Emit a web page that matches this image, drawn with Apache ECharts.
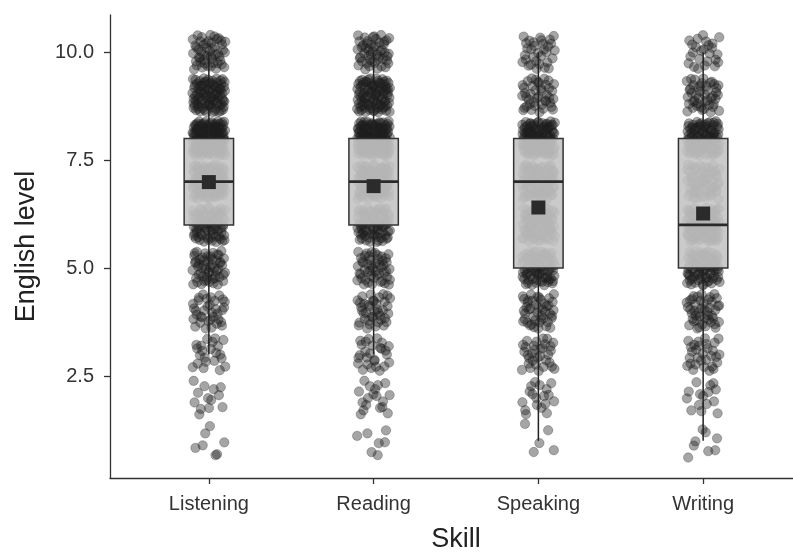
<!DOCTYPE html>
<html>
<head>
<meta charset="utf-8">
<title>English level by skill</title>
<script src="https://cdn.jsdelivr.net/npm/echarts@6/dist/echarts.min.js"></script>
<style>
  html, body { margin: 0; padding: 0; background: #ffffff; }
  #chart { width: 793px; height: 554px; }
</style>
</head>
<body>
<div id="chart"></div>
<script>
// Self-rated English level (1-10), number of respondents at each level per skill
const skills = ['Listening', 'Reading', 'Speaking', 'Writing'];
const levels = [1, 2, 3, 4, 5, 6, 7, 8, 9, 10];
const listeningCounts = [7, 13, 22, 35, 55, 75, 95, 140, 95, 50];
const readingCounts   = [7, 18, 27, 40, 50, 75, 90, 135, 95, 50];
const speakingCounts  = [5, 18, 32, 45, 75, 75, 85, 115, 42, 32];
const writingCounts   = [8, 15, 30, 45, 75, 95, 60, 95, 45, 25];
const yTickValues = [2.5, 5, 7.5, 10];

const countsBySkill = [listeningCounts, readingCounts, speakingCounts, writingCounts];

// Expand the counts into individual responses
function responses(counts) {
  const out = [];
  counts.forEach((n, i) => { for (let k = 0; k < n; k++) out.push(levels[i]); });
  return out;
}

// Quantile (linear interpolation between order statistics)
function quantile(sorted, p) {
  const h = (sorted.length - 1) * p;
  const lo = Math.floor(h);
  const hi = Math.min(lo + 1, sorted.length - 1);
  return sorted[lo] + (h - lo) * (sorted[hi] - sorted[lo]);
}

function boxStats(values) {
  const s = values.slice().sort((a, b) => a - b);
  const q1 = quantile(s, 0.25), med = quantile(s, 0.5), q3 = quantile(s, 0.75);
  const iqr = q3 - q1;
  const lowFence = q1 - 1.5 * iqr, highFence = q3 + 1.5 * iqr;
  const lo = s.find(v => v >= lowFence);
  const hi = s.slice().reverse().find(v => v <= highFence);
  const mean = s.reduce((a, b) => a + b, 0) / s.length;
  return [lo, q1, med, q3, hi, mean];
}

// Halton sequence, used to spread overlapping responses (jitter)
function halton(i, base) {
  let f = 1, r = 0;
  while (i > 0) { f /= base; r += f * (i % base); i = Math.floor(i / base); }
  return r;
}

const JITTER_W = 0.1;   // horizontal jitter, in category units
const JITTER_H = 0.4;   // vertical jitter, in level units

const pointData = [];
const boxData = [];
countsBySkill.forEach((counts, si) => {
  const vals = responses(counts);
  vals.forEach((v, k) => {
    const idx = si * 1000 + k * 7 + 3;
    const jx = (halton(idx, 2) * 2 - 1) * JITTER_W;
    const jy = (halton(idx, 3) * 2 - 1) * JITTER_H;
    pointData.push([si, v, jx, jy]);
  });
  boxData.push([si].concat(boxStats(vals)));
});

const FONT = 'Liberation Sans, Arial, Helvetica, sans-serif';
const INK = '#333333';

const chart = echarts.init(document.getElementById('chart'), null, { renderer: 'canvas' });

chart.setOption({
  backgroundColor: '#ffffff',
  animation: false,
  grid: { left: 110, right: -9, top: 15, bottom: 76, containLabel: false, outerBoundsMode: 'none' },
  xAxis: {
    type: 'value',
    min: -0.6,
    max: 3.6,
    name: 'Skill',
    nameLocation: 'middle',
    nameGap: 48,
    nameTextStyle: { fontFamily: FONT, fontSize: 27, color: '#222' },
    axisLine: { onZero: false, lineStyle: { color: INK, width: 1.3 } },
    axisTick: { show: true, length: 6, customValues: [0, 1, 2, 3], lineStyle: { color: INK, width: 1.3 } },
    axisLabel: {
      customValues: [0, 1, 2, 3],
      formatter: v => skills[Math.round(v)],
      margin: 16,
      fontFamily: FONT, fontSize: 20, color: '#333'
    },
    splitLine: { show: false }
  },
  yAxis: {
    type: 'value',
    min: 0.14,
    max: 10.86,
    name: 'English level',
    nameLocation: 'middle',
    nameGap: 70,
    nameRotate: 90,
    nameTextStyle: { fontFamily: FONT, fontSize: 27, color: '#222' },
    axisLine: { show: true, onZero: false, lineStyle: { color: INK, width: 1.3 } },
    axisTick: { show: true, length: 6, customValues: yTickValues, lineStyle: { color: INK, width: 1.3 } },
    axisLabel: {
      customValues: yTickValues,
      formatter: v => v.toFixed(1),
      margin: 16,
      fontFamily: FONT, fontSize: 20, color: '#333'
    },
    splitLine: { show: false }
  },
  series: [
    {
      name: 'responses',
      type: 'custom',
      z: 2,
      data: pointData,
      encode: { x: 0, y: 1 },
      renderItem: function (params, api) {
        const c = api.coord([api.value(0) + api.value(2), api.value(1) + api.value(3)]);
        return {
          type: 'circle',
          shape: { cx: c[0], cy: c[1], r: 4.7 },
          style: { fill: 'rgba(30,30,30,0.4)', stroke: 'rgba(30,30,30,0.35)', lineWidth: 0.8 }
        };
      }
    },
    {
      name: 'summary',
      type: 'custom',
      z: 3,
      data: boxData,
      encode: { x: 0, y: [1, 5] },
      renderItem: function (params, api) {
        const x = api.value(0);
        const lo = api.value(1), q1 = api.value(2), med = api.value(3);
        const q3 = api.value(4), hi = api.value(5), mean = api.value(6);
        const half = 0.15;
        const pTop = api.coord([x, q3]), pHi = api.coord([x, hi]);
        const pBot = api.coord([x, q1]), pLo = api.coord([x, lo]);
        const tl = api.coord([x - half, q3]), br = api.coord([x + half, q1]);
        const ml = api.coord([x - half, med]), mr = api.coord([x + half, med]);
        const pm = api.coord([x, mean]);
        const sq = 14;
        return {
          type: 'group',
          children: [
            { type: 'line', shape: { x1: pTop[0], y1: pTop[1], x2: pHi[0], y2: pHi[1] },
              style: { stroke: '#222', lineWidth: 1.5 } },
            { type: 'line', shape: { x1: pBot[0], y1: pBot[1], x2: pLo[0], y2: pLo[1] },
              style: { stroke: '#222', lineWidth: 1.5 } },
            { type: 'rect', shape: { x: tl[0], y: tl[1], width: br[0] - tl[0], height: br[1] - tl[1] },
              style: { fill: 'rgba(196,196,196,0.9)', stroke: '#333', lineWidth: 1.5 } },
            { type: 'line', shape: { x1: ml[0], y1: ml[1], x2: mr[0], y2: mr[1] },
              style: { stroke: '#2a2a2a', lineWidth: 2.8 } },
            { type: 'rect', shape: { x: pm[0] - sq / 2, y: pm[1] - sq / 2, width: sq, height: sq },
              style: { fill: '#2b2b2b' } }
          ]
        };
      }
    }
  ]
});
</script>
</body>
</html>
